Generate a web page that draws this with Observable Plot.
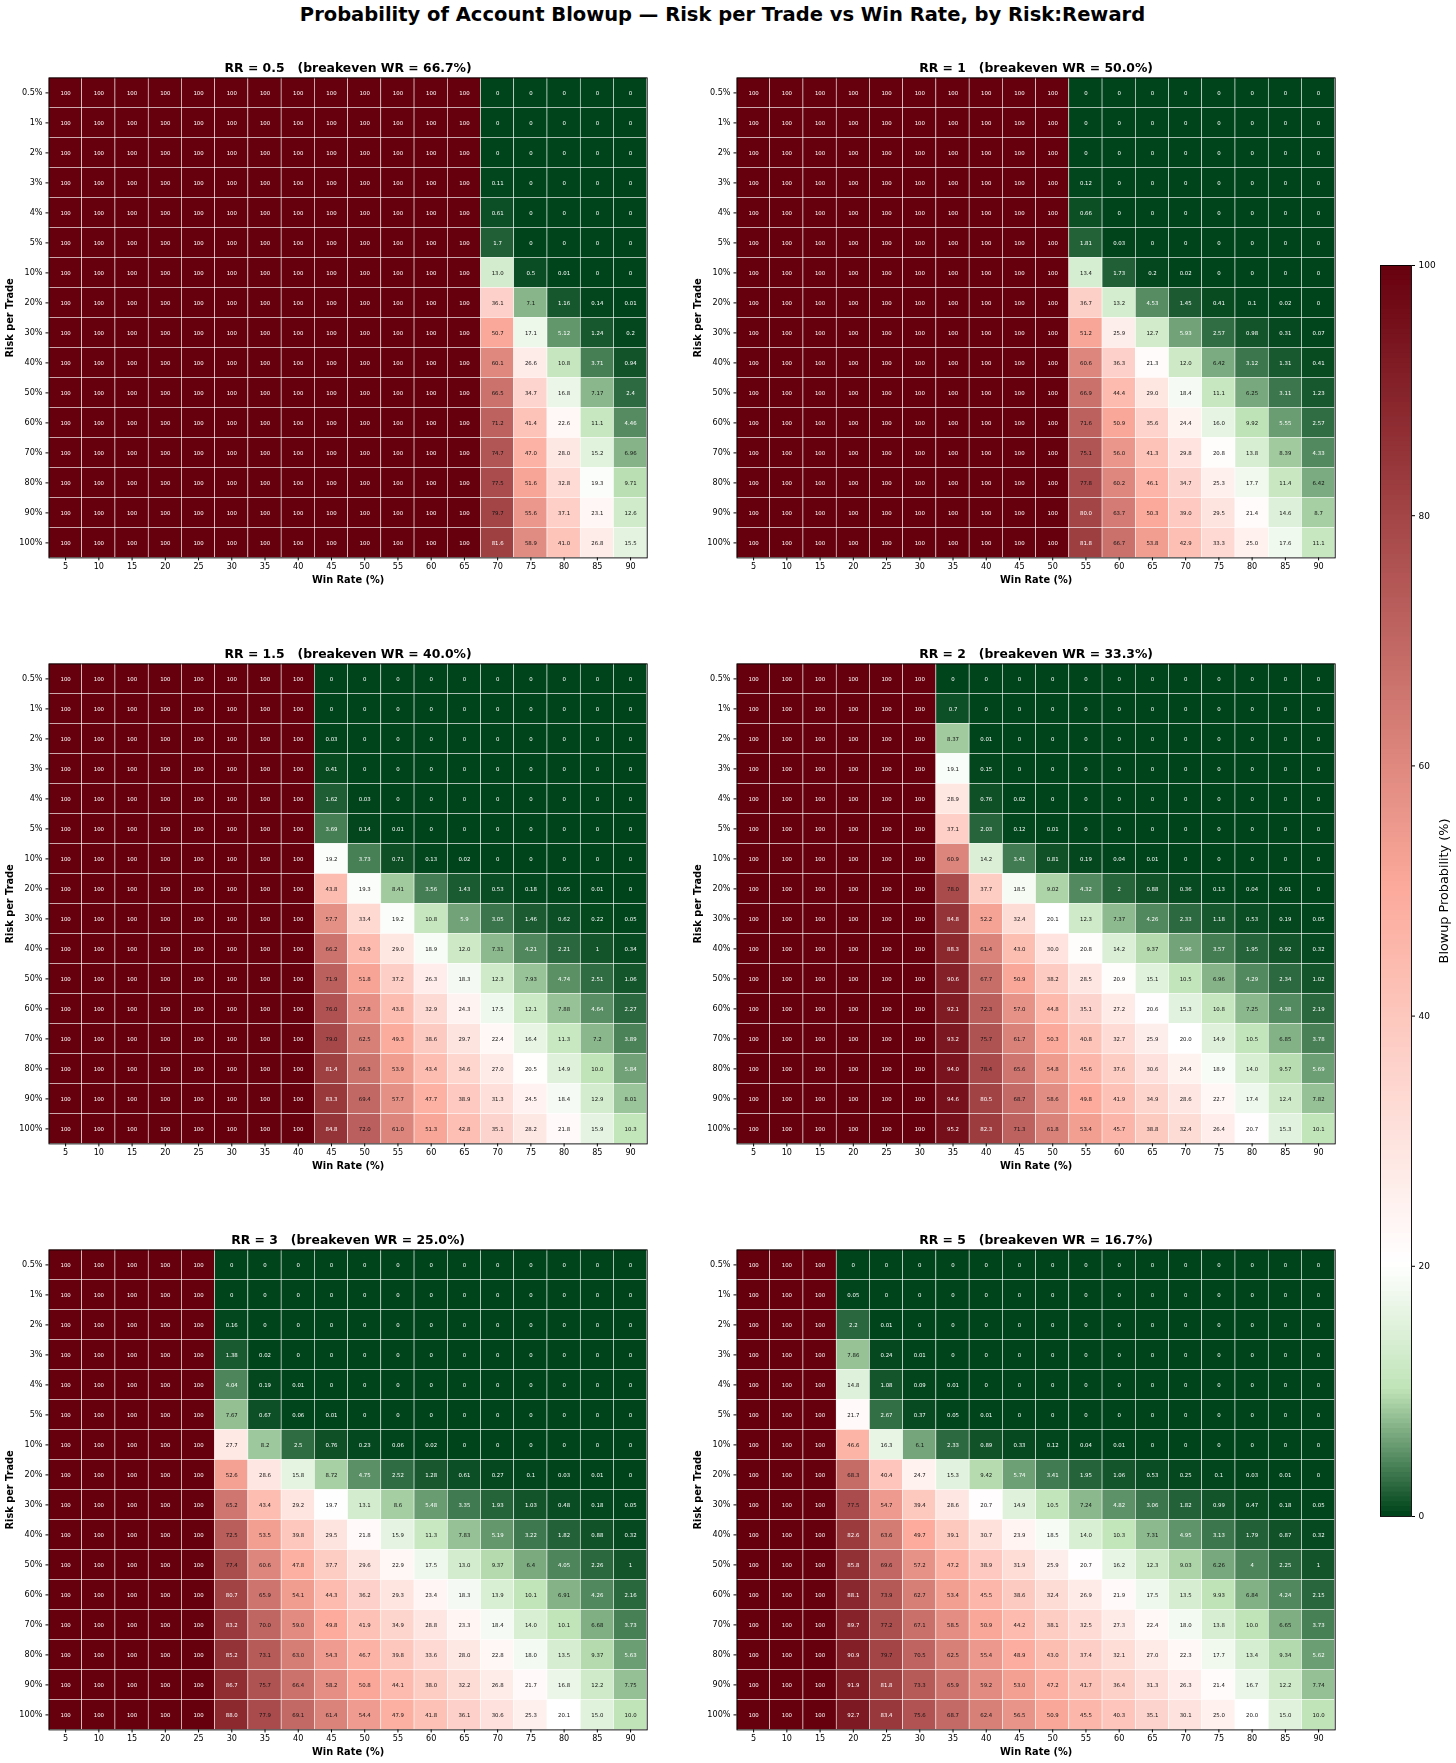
<!DOCTYPE html>
<html><head><meta charset="utf-8">
<script src="https://cdn.jsdelivr.net/npm/d3@7"></script>
<script src="https://cdn.jsdelivr.net/npm/@observablehq/plot@0.6"></script>
<style>
html,body{margin:0;padding:0;background:#fff;font-family:"DejaVu Sans",sans-serif}
#page{position:relative;width:1456px;height:1763px;overflow:hidden}
#page>div{position:absolute}
#page svg{display:block;background:transparent;font-family:"DejaVu Sans",sans-serif;overflow:visible}
#page svg text{white-space:pre}
.layer{will-change:transform}
#title{left:0;top:0;width:1445px;text-align:center;font-weight:bold;font-size:19.5px;line-height:29px;color:#000;white-space:nowrap}
</style></head><body><div id="page"><div id="title">Probability of Account Blowup — Risk per Trade vs Win Rate, by Risk:Reward</div></div>
<script>
const winRates = [5,10,15,20,25,30,35,40,45,50,55,60,65,70,75,80,85,90];
const riskLabels = ["0.5%","1%","2%","3%","4%","5%","10%","20%","30%","40%","50%","60%","70%","80%","90%","100%"];

const rr05 = [
[100,100,100,100,100,100,100,100,100,100,100,100,100,0,0,0,0,0],
[100,100,100,100,100,100,100,100,100,100,100,100,100,0,0,0,0,0],
[100,100,100,100,100,100,100,100,100,100,100,100,100,0,0,0,0,0],
[100,100,100,100,100,100,100,100,100,100,100,100,100,0.11,0,0,0,0],
[100,100,100,100,100,100,100,100,100,100,100,100,100,0.61,0,0,0,0],
[100,100,100,100,100,100,100,100,100,100,100,100,100,1.7,0,0,0,0],
[100,100,100,100,100,100,100,100,100,100,100,100,100,13.0,0.5,0.01,0,0],
[100,100,100,100,100,100,100,100,100,100,100,100,100,36.1,7.1,1.16,0.14,0.01],
[100,100,100,100,100,100,100,100,100,100,100,100,100,50.7,17.1,5.12,1.24,0.2],
[100,100,100,100,100,100,100,100,100,100,100,100,100,60.1,26.6,10.8,3.71,0.94],
[100,100,100,100,100,100,100,100,100,100,100,100,100,66.5,34.7,16.8,7.17,2.4],
[100,100,100,100,100,100,100,100,100,100,100,100,100,71.2,41.4,22.6,11.1,4.46],
[100,100,100,100,100,100,100,100,100,100,100,100,100,74.7,47.0,28.0,15.2,6.96],
[100,100,100,100,100,100,100,100,100,100,100,100,100,77.5,51.6,32.8,19.3,9.71],
[100,100,100,100,100,100,100,100,100,100,100,100,100,79.7,55.6,37.1,23.1,12.6],
[100,100,100,100,100,100,100,100,100,100,100,100,100,81.6,58.9,41.0,26.8,15.5]];

const rr1 = [
[100,100,100,100,100,100,100,100,100,100,0,0,0,0,0,0,0,0],
[100,100,100,100,100,100,100,100,100,100,0,0,0,0,0,0,0,0],
[100,100,100,100,100,100,100,100,100,100,0,0,0,0,0,0,0,0],
[100,100,100,100,100,100,100,100,100,100,0.12,0,0,0,0,0,0,0],
[100,100,100,100,100,100,100,100,100,100,0.66,0,0,0,0,0,0,0],
[100,100,100,100,100,100,100,100,100,100,1.81,0.03,0,0,0,0,0,0],
[100,100,100,100,100,100,100,100,100,100,13.4,1.73,0.2,0.02,0,0,0,0],
[100,100,100,100,100,100,100,100,100,100,36.7,13.2,4.53,1.45,0.41,0.1,0.02,0],
[100,100,100,100,100,100,100,100,100,100,51.2,25.9,12.7,5.93,2.57,0.98,0.31,0.07],
[100,100,100,100,100,100,100,100,100,100,60.6,36.3,21.3,12.0,6.42,3.12,1.31,0.41],
[100,100,100,100,100,100,100,100,100,100,66.9,44.4,29.0,18.4,11.1,6.25,3.11,1.23],
[100,100,100,100,100,100,100,100,100,100,71.6,50.9,35.6,24.4,16.0,9.92,5.55,2.57],
[100,100,100,100,100,100,100,100,100,100,75.1,56.0,41.3,29.8,20.8,13.8,8.39,4.33],
[100,100,100,100,100,100,100,100,100,100,77.8,60.2,46.1,34.7,25.3,17.7,11.4,6.42],
[100,100,100,100,100,100,100,100,100,100,80.0,63.7,50.3,39.0,29.5,21.4,14.6,8.7],
[100,100,100,100,100,100,100,100,100,100,81.8,66.7,53.8,42.9,33.3,25.0,17.6,11.1]];

const rr15 = [
[100,100,100,100,100,100,100,100,0,0,0,0,0,0,0,0,0,0],
[100,100,100,100,100,100,100,100,0,0,0,0,0,0,0,0,0,0],
[100,100,100,100,100,100,100,100,0.03,0,0,0,0,0,0,0,0,0],
[100,100,100,100,100,100,100,100,0.41,0,0,0,0,0,0,0,0,0],
[100,100,100,100,100,100,100,100,1.62,0.03,0,0,0,0,0,0,0,0],
[100,100,100,100,100,100,100,100,3.69,0.14,0.01,0,0,0,0,0,0,0],
[100,100,100,100,100,100,100,100,19.2,3.73,0.71,0.13,0.02,0,0,0,0,0],
[100,100,100,100,100,100,100,100,43.8,19.3,8.41,3.56,1.43,0.53,0.18,0.05,0.01,0],
[100,100,100,100,100,100,100,100,57.7,33.4,19.2,10.8,5.9,3.05,1.46,0.62,0.22,0.05],
[100,100,100,100,100,100,100,100,66.2,43.9,29.0,18.9,12.0,7.31,4.21,2.21,1,0.34],
[100,100,100,100,100,100,100,100,71.9,51.8,37.2,26.3,18.3,12.3,7.93,4.74,2.51,1.06],
[100,100,100,100,100,100,100,100,76.0,57.8,43.8,32.9,24.3,17.5,12.1,7.88,4.64,2.27],
[100,100,100,100,100,100,100,100,79.0,62.5,49.3,38.6,29.7,22.4,16.4,11.3,7.2,3.89],
[100,100,100,100,100,100,100,100,81.4,66.3,53.9,43.4,34.6,27.0,20.5,14.9,10.0,5.84],
[100,100,100,100,100,100,100,100,83.3,69.4,57.7,47.7,38.9,31.3,24.5,18.4,12.9,8.01],
[100,100,100,100,100,100,100,100,84.8,72.0,61.0,51.3,42.8,35.1,28.2,21.8,15.9,10.3]];

const rr2 = [
[100,100,100,100,100,100,0,0,0,0,0,0,0,0,0,0,0,0],
[100,100,100,100,100,100,0.7,0,0,0,0,0,0,0,0,0,0,0],
[100,100,100,100,100,100,8.37,0.01,0,0,0,0,0,0,0,0,0,0],
[100,100,100,100,100,100,19.1,0.15,0,0,0,0,0,0,0,0,0,0],
[100,100,100,100,100,100,28.9,0.76,0.02,0,0,0,0,0,0,0,0,0],
[100,100,100,100,100,100,37.1,2.03,0.12,0.01,0,0,0,0,0,0,0,0],
[100,100,100,100,100,100,60.9,14.2,3.41,0.81,0.19,0.04,0.01,0,0,0,0,0],
[100,100,100,100,100,100,78.0,37.7,18.5,9.02,4.32,2,0.88,0.36,0.13,0.04,0.01,0],
[100,100,100,100,100,100,84.8,52.2,32.4,20.1,12.3,7.37,4.26,2.33,1.18,0.53,0.19,0.05],
[100,100,100,100,100,100,88.3,61.4,43.0,30.0,20.8,14.2,9.37,5.96,3.57,1.95,0.92,0.32],
[100,100,100,100,100,100,90.6,67.7,50.9,38.2,28.5,20.9,15.1,10.5,6.96,4.29,2.34,1.02],
[100,100,100,100,100,100,92.1,72.3,57.0,44.8,35.1,27.2,20.6,15.3,10.8,7.25,4.38,2.19],
[100,100,100,100,100,100,93.2,75.7,61.7,50.3,40.8,32.7,25.9,20.0,14.9,10.5,6.85,3.78],
[100,100,100,100,100,100,94.0,78.4,65.6,54.8,45.6,37.6,30.6,24.4,18.9,14.0,9.57,5.69],
[100,100,100,100,100,100,94.6,80.5,68.7,58.6,49.8,41.9,34.9,28.6,22.7,17.4,12.4,7.82],
[100,100,100,100,100,100,95.2,82.3,71.3,61.8,53.4,45.7,38.8,32.4,26.4,20.7,15.3,10.1]];

const rr3 = [
[100,100,100,100,100,0,0,0,0,0,0,0,0,0,0,0,0,0],
[100,100,100,100,100,0,0,0,0,0,0,0,0,0,0,0,0,0],
[100,100,100,100,100,0.16,0,0,0,0,0,0,0,0,0,0,0,0],
[100,100,100,100,100,1.38,0.02,0,0,0,0,0,0,0,0,0,0,0],
[100,100,100,100,100,4.04,0.19,0.01,0,0,0,0,0,0,0,0,0,0],
[100,100,100,100,100,7.67,0.67,0.06,0.01,0,0,0,0,0,0,0,0,0],
[100,100,100,100,100,27.7,8.2,2.5,0.76,0.23,0.06,0.02,0,0,0,0,0,0],
[100,100,100,100,100,52.6,28.6,15.8,8.72,4.75,2.52,1.28,0.61,0.27,0.1,0.03,0.01,0],
[100,100,100,100,100,65.2,43.4,29.2,19.7,13.1,8.6,5.48,3.35,1.93,1.03,0.48,0.18,0.05],
[100,100,100,100,100,72.5,53.5,39.8,29.5,21.8,15.9,11.3,7.83,5.19,3.22,1.82,0.88,0.32],
[100,100,100,100,100,77.4,60.6,47.8,37.7,29.6,22.9,17.5,13.0,9.37,6.4,4.05,2.26,1],
[100,100,100,100,100,80.7,65.9,54.1,44.3,36.2,29.3,23.4,18.3,13.9,10.1,6.91,4.26,2.16],
[100,100,100,100,100,83.2,70.0,59.0,49.8,41.9,34.9,28.8,23.3,18.4,14.0,10.1,6.68,3.73],
[100,100,100,100,100,85.2,73.1,63.0,54.3,46.7,39.8,33.6,28.0,22.8,18.0,13.5,9.37,5.63],
[100,100,100,100,100,86.7,75.7,66.4,58.2,50.8,44.1,38.0,32.2,26.8,21.7,16.8,12.2,7.75],
[100,100,100,100,100,88.0,77.9,69.1,61.4,54.4,47.9,41.8,36.1,30.6,25.3,20.1,15.0,10.0]];

const rr5 = [
[100,100,100,0,0,0,0,0,0,0,0,0,0,0,0,0,0,0],
[100,100,100,0.05,0,0,0,0,0,0,0,0,0,0,0,0,0,0],
[100,100,100,2.2,0.01,0,0,0,0,0,0,0,0,0,0,0,0,0],
[100,100,100,7.86,0.24,0.01,0,0,0,0,0,0,0,0,0,0,0,0],
[100,100,100,14.8,1.08,0.09,0.01,0,0,0,0,0,0,0,0,0,0,0],
[100,100,100,21.7,2.67,0.37,0.05,0.01,0,0,0,0,0,0,0,0,0,0],
[100,100,100,46.6,16.3,6.1,2.33,0.89,0.33,0.12,0.04,0.01,0,0,0,0,0,0],
[100,100,100,68.3,40.4,24.7,15.3,9.42,5.74,3.41,1.95,1.06,0.53,0.25,0.1,0.03,0.01,0],
[100,100,100,77.5,54.7,39.4,28.6,20.7,14.9,10.5,7.24,4.82,3.06,1.82,0.99,0.47,0.18,0.05],
[100,100,100,82.6,63.6,49.7,39.1,30.7,23.9,18.5,14.0,10.3,7.31,4.95,3.13,1.79,0.87,0.32],
[100,100,100,85.8,69.6,57.2,47.2,38.9,31.9,25.9,20.7,16.2,12.3,9.03,6.26,4,2.25,1],
[100,100,100,88.1,73.9,62.7,53.4,45.5,38.6,32.4,26.9,21.9,17.5,13.5,9.93,6.84,4.24,2.15],
[100,100,100,89.7,77.2,67.1,58.5,50.9,44.2,38.1,32.5,27.3,22.4,18.0,13.8,10.0,6.65,3.73],
[100,100,100,90.9,79.7,70.5,62.5,55.4,48.9,43.0,37.4,32.1,27.0,22.3,17.7,13.4,9.34,5.62],
[100,100,100,91.9,81.8,73.3,65.9,59.2,53.0,47.2,41.7,36.4,31.3,26.3,21.4,16.7,12.2,7.74],
[100,100,100,92.7,83.4,75.6,68.7,62.4,56.5,50.9,45.5,40.3,35.1,30.1,25.0,20.0,15.0,10.0]];

const panelTitles = ["RR = 0.5   (breakeven WR = 66.7%)","RR = 1   (breakeven WR = 50.0%)","RR = 1.5   (breakeven WR = 40.0%)","RR = 2   (breakeven WR = 33.3%)","RR = 3   (breakeven WR = 25.0%)","RR = 5   (breakeven WR = 16.7%)"];
const panelValues = [rr05, rr1, rr15, rr2, rr3, rr5];

const colorDomain = [0,10,20,50,100];
const colorRange = ["#00441b","#c0e4b8","#ffffff","#fcaa9b","#67000d"];
const colorScale = {type:"linear",domain:colorDomain,range:colorRange,interpolate:"rgb"};

const fmt = v => v >= 100 ? "100" : v >= 10 ? v.toFixed(1) : String(+v.toFixed(2));
const isLight = v => v < 6 || v >= 80;

const page = document.getElementById("page");
const cols = [0, 688];          // svg left edges
const plotTops = [40, 626, 1212];
const panelW = 598.2, panelH = 480, svgW = 680, svgH = 550;
const mLeft = 48.5, mTop = 37.4;

panelValues.forEach((vals,i) => {
  const data = vals.flatMap((row,r) => row.map((v,c) => ({win:winRates[c], risk:riskLabels[r], v})));
  const chart = Plot.plot({
    width:svgW, height:svgH,
    marginLeft:mLeft, marginTop:mTop, marginRight:svgW-mLeft-panelW, marginBottom:svgH-mTop-panelH,
    style:{background:"transparent",fontFamily:"DejaVu Sans"},
    x:{type:"band",domain:winRates,padding:0,round:false,axis:null},
    y:{type:"band",domain:riskLabels,padding:0,round:false,axis:null},
    color:colorScale,
    marks:[
      Plot.cell(data,{x:"win",y:"risk",fill:"v",stroke:"#fff",strokeWidth:0.5}),
      Plot.text(data.filter(d=>isLight(d.v)),{x:"win",y:"risk",text:d=>fmt(d.v),fill:"#fff",fontSize:5.4}),
      Plot.text(data.filter(d=>!isLight(d.v)),{x:"win",y:"risk",text:d=>fmt(d.v),fill:"#111",fontSize:5.4}),
      Plot.frame({stroke:"#000",strokeWidth:0.9}),
      Plot.axisX({anchor:"bottom",label:null,tickSize:3,tickPadding:2.5,fontSize:8.1,stroke:"#000",color:"#000"}),
      Plot.axisY({anchor:"left",label:null,tickSize:3,tickPadding:3.5,fontSize:8.1,stroke:"#000",color:"#000"}),
      Plot.text([panelTitles[i]],{frameAnchor:"top",dy:-15,fontSize:12.4,fontWeight:"bold",fill:"#000"}),
      Plot.text(["Win Rate (%)"],{frameAnchor:"bottom",dy:25,fontSize:9.8,fontWeight:"bold",fill:"#000"}),
      Plot.text(["Risk per Trade"],{frameAnchor:"left",dx:-39,rotate:-90,textAnchor:"middle",fontSize:9.8,fontWeight:"bold",fill:"#000"})
    ]
  });
  const box = document.createElement("div");
  box.className = "layer";
  box.style.left = cols[i%2]+"px";
  box.style.top = plotTops[Math.floor(i/2)]+"px";
  box.appendChild(chart);
  page.appendChild(box);
});

// colour bar
const levels = d3.range(0,100,100/256);
const cbarTicks = [0,20,40,60,80,100];
const cbar = Plot.plot({
  width:76, height:1270,
  marginLeft:0, marginRight:45, marginTop:5, marginBottom:1270-5-1251,
  style:{background:"transparent",fontFamily:"DejaVu Sans"},
  x:{domain:[0,1],axis:null},
  y:{domain:[0,100],axis:null},
  color:colorScale,
  marks:[
    Plot.rectY(levels,{y1:d=>d,y2:d=>Math.min(100,d+0.6),fill:d=>d}),
    Plot.frame({stroke:"#000",strokeWidth:0.9}),
    Plot.axisY({anchor:"right",ticks:cbarTicks,label:null,tickSize:3,tickPadding:4,fontSize:9,stroke:"#000",color:"#000"}),
    Plot.text(["Blowup Probability (%)"],{frameAnchor:"right",dx:32,rotate:-90,textAnchor:"middle",fontSize:12.8,fill:"#000"})
  ]
});
const cbox = document.createElement("div");
cbox.className = "layer";
cbox.style.left = "1380px"; cbox.style.top = "260px";
cbox.appendChild(cbar);
page.appendChild(cbox);
</script></body></html>
